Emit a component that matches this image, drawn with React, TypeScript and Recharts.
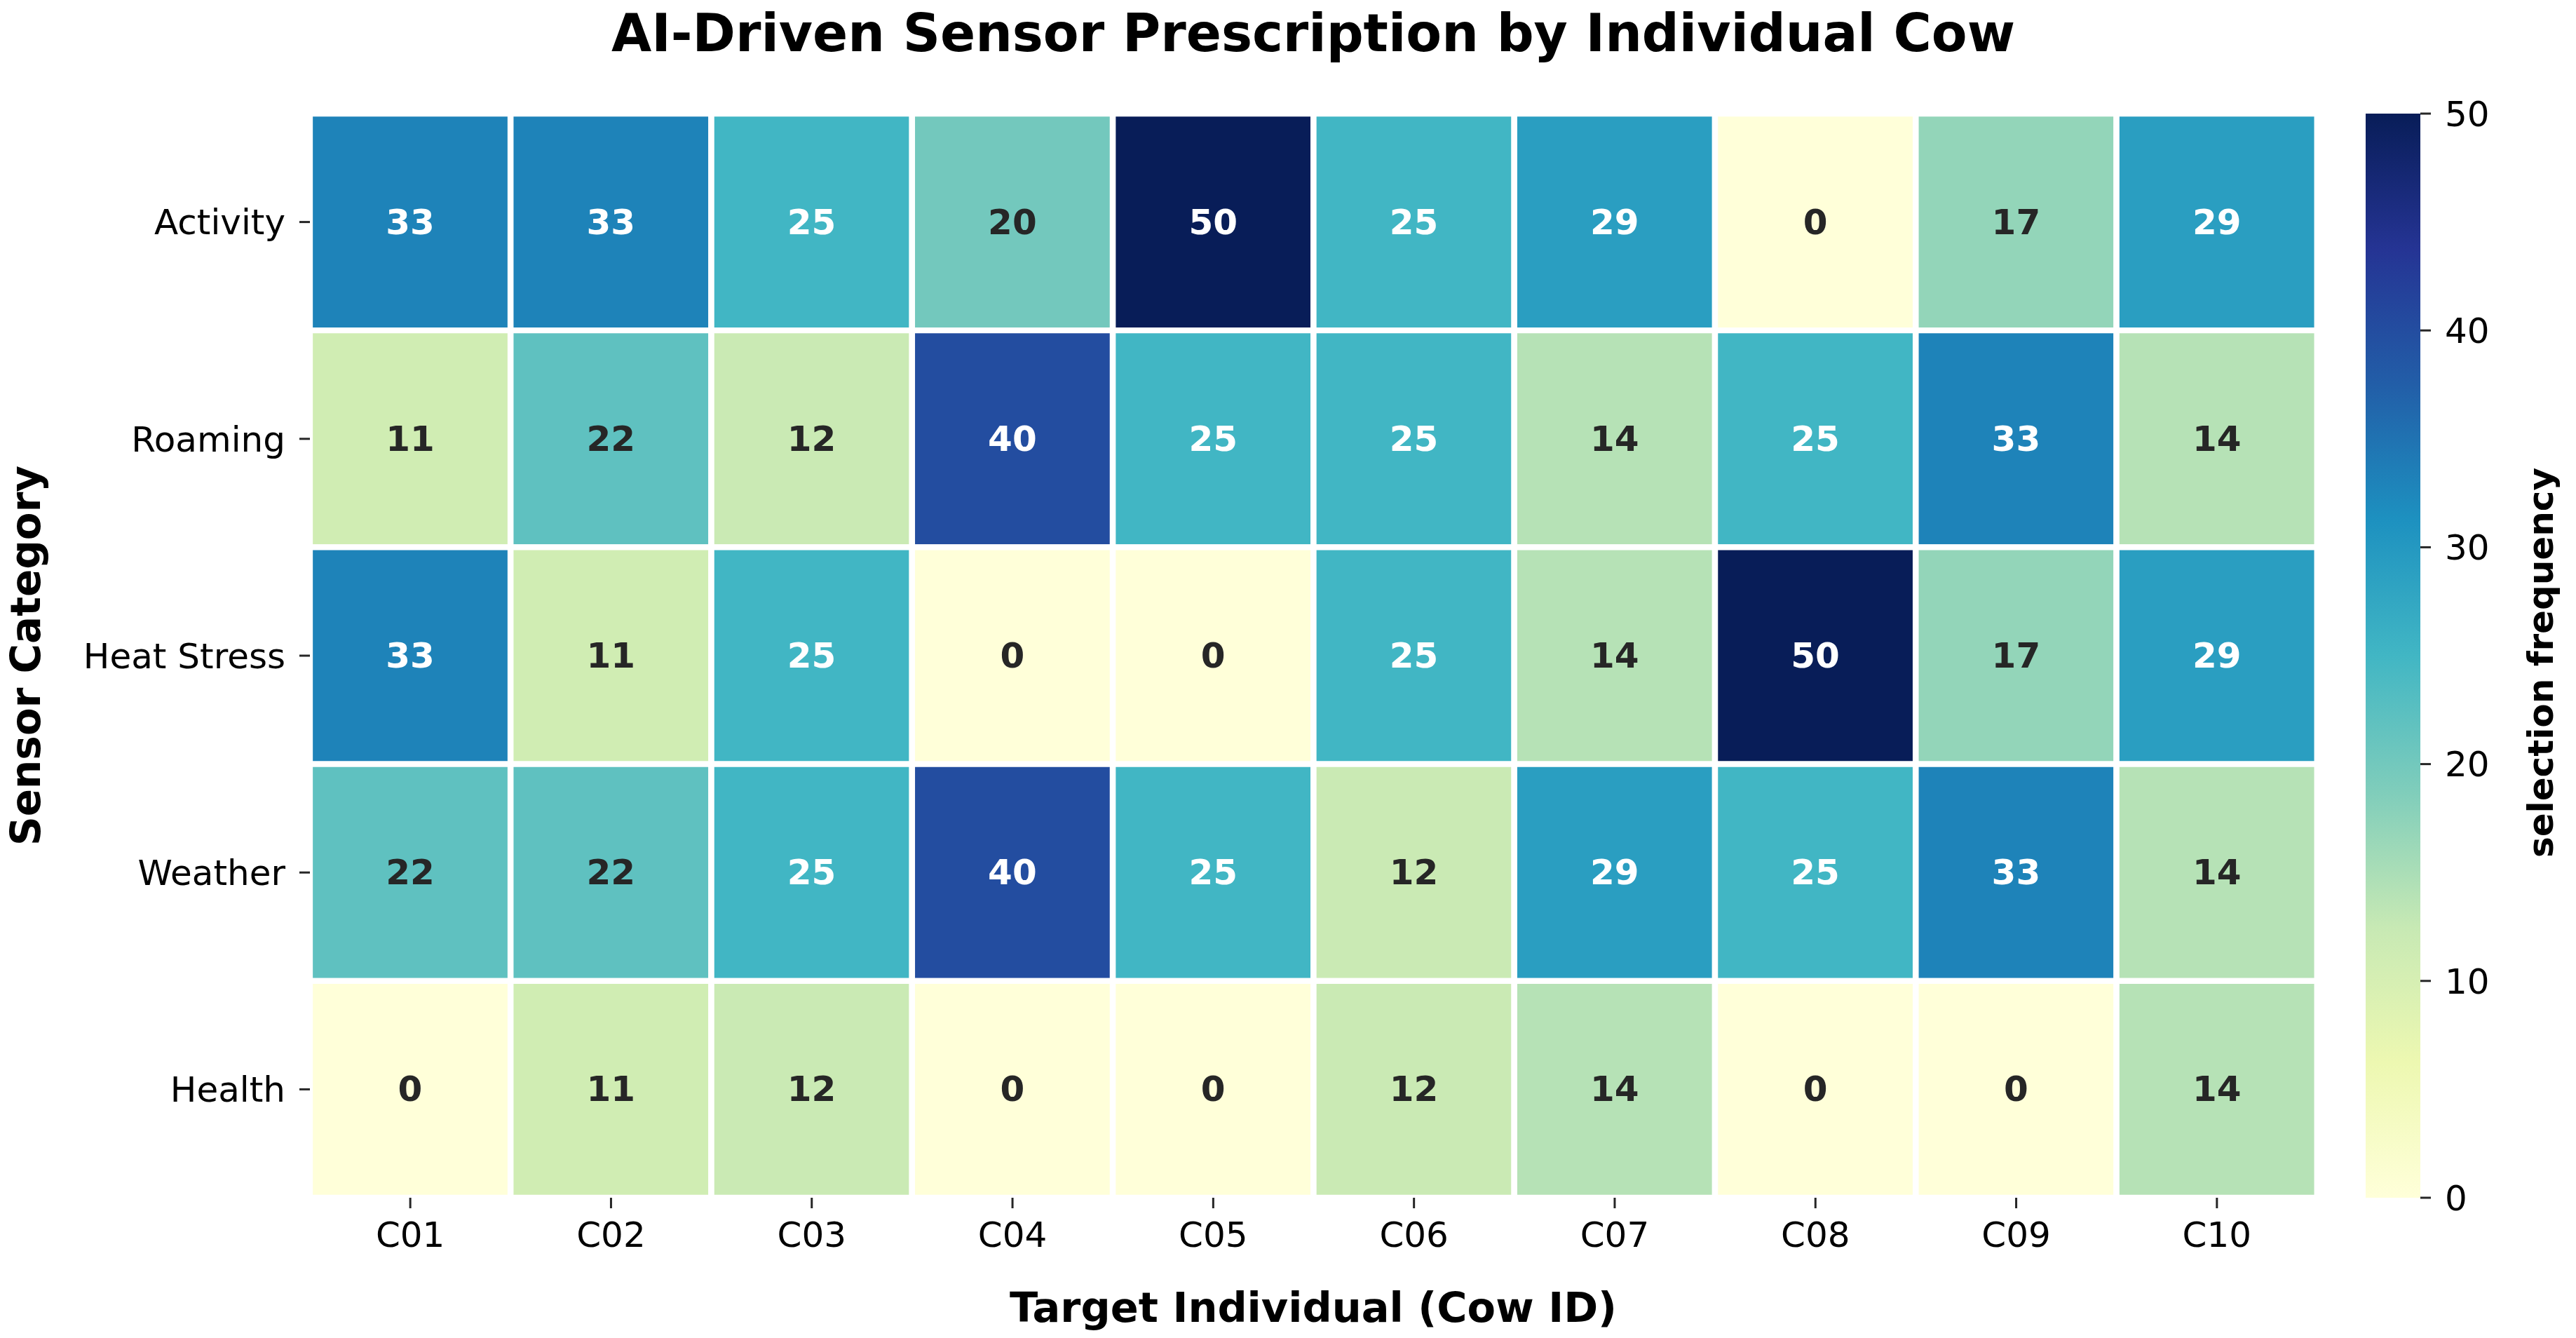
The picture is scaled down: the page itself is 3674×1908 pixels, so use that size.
import React from 'react';
import { BarChart, Bar, XAxis, YAxis, Cell, LabelList } from 'recharts';

const categories = ['Activity', 'Roaming', 'Heat Stress', 'Weather', 'Health'];
const cows = ['C01', 'C02', 'C03', 'C04', 'C05', 'C06', 'C07', 'C08', 'C09', 'C10'];

const activity = [33, 33, 25, 20, 50, 25, 29, 0, 17, 29];
const roaming = [11, 22, 12, 40, 25, 25, 14, 25, 33, 14];
const heatStress = [33, 11, 25, 0, 0, 25, 14, 50, 17, 29];
const weather = [22, 22, 25, 40, 25, 12, 29, 25, 33, 14];
const health = [0, 11, 12, 0, 0, 12, 14, 0, 0, 14];
const seriesValues = [activity, roaming, heatStress, weather, health];

const colorbarTicks = [0, 10, 20, 30, 40, 50];
const vmin = 0;
const vmax = 50;

// YlGnBu (matplotlib / colorbrewer)
const ylgnbu = [
  [255, 255, 217],
  [237, 248, 177],
  [199, 233, 180],
  [127, 205, 187],
  [65, 182, 196],
  [29, 145, 192],
  [34, 94, 168],
  [37, 52, 148],
  [8, 29, 88],
];

const FONT = '"DejaVu Sans", Verdana, sans-serif';

function colorRgb(v: number) {
  const t = Math.max(0, Math.min(1, (v - vmin) / (vmax - vmin)));
  const pos = t * (ylgnbu.length - 1);
  const i = Math.min(Math.floor(pos), ylgnbu.length - 2);
  const f = pos - i;
  const a = ylgnbu[i];
  const b = ylgnbu[i + 1];
  return [0, 1, 2].map((k) => Math.round(a[k] + (b[k] - a[k]) * f));
}

function colorFor(v: number) {
  const [r, g, b] = colorRgb(v);
  return `rgb(${r},${g},${b})`;
}

// same rule seaborn uses to pick annotation colour
function textColorFor(v: number) {
  const lin = colorRgb(v).map((c) => {
    const s = c / 255;
    return s <= 0.03928 ? s / 12.92 : Math.pow((s + 0.055) / 1.055, 2.4);
  });
  const lum = 0.2126 * lin[0] + 0.7152 * lin[1] + 0.0722 * lin[2];
  return lum > 0.408 ? '#262626' : '#ffffff';
}

const tableData = cows.map((cow, i) => {
  const entry: Record<string, string | number> = { cow };
  categories.forEach((_, j) => {
    entry[`span${j}`] = 1;
    entry[`val${j}`] = seriesValues[j][i];
  });
  return entry;
});

const colorbarData = [{ name: 'scale', v: vmax }];

const renderCellLabel = (props: any) => {
  const { x, y, width, height, value } = props;
  const v = Number(value);
  return (
    <text
      x={Number(x) + Number(width) / 2}
      y={Number(y) + Number(height) / 2}
      textAnchor="middle"
      dominantBaseline="central"
      fontFamily={FONT}
      fontSize={50}
      fontWeight="bold"
      fill={textColorFor(v)}
    >
      {v}
    </text>
  );
};

const tickLine = { stroke: '#262626', strokeWidth: 3 };
const tickText = { fill: '#000', fontSize: 50, fontFamily: FONT };

export default function App() {
  return (
    <div style={{ position: 'absolute', left: 0, top: 0, width: 3674, height: 1908, background: '#fff' }}>
      <div style={{ position: 'absolute', left: 0, top: 0 }}>
        <BarChart
          width={3674}
          height={1908}
          data={tableData}
          margin={{ top: 162, right: 369, bottom: 80, left: 142 }}
          barCategoryGap={0}
          barGap={0}
        >
          <XAxis
            dataKey="cow"
            type="category"
            height={120}
            interval={0}
            tickSize={15}
            tickMargin={19}
            axisLine={false}
            tickLine={tickLine}
            tick={tickText}
          />
          <YAxis
            type="number"
            domain={[0, categories.length]}
            reversed
            ticks={categories.map((_, j) => j + 0.5)}
            tickFormatter={(v: number) => categories[Math.floor(v)]}
            interval={0}
            width={300}
            tickSize={15}
            tickMargin={20}
            axisLine={false}
            tickLine={tickLine}
            tick={tickText}
          />
          {categories.map((cat, j) => (
            <Bar
              key={cat}
              dataKey={`span${j}`}
              stackId="grid"
              stroke="#ffffff"
              strokeWidth={8.3}
              isAnimationActive={false}
            >
              {cows.map((cow, i) => (
                <Cell key={cow} fill={colorFor(seriesValues[j][i])} stroke="#ffffff" strokeWidth={8.3} />
              ))}
              <LabelList dataKey={`val${j}`} content={renderCellLabel} />
            </Bar>
          ))}
        </BarChart>
      </div>

      <div style={{ position: 'absolute', left: 3374, top: 122 }}>
        <BarChart
          width={278}
          height={1626}
          data={colorbarData}
          margin={{ top: 40, right: 0, bottom: 40, left: 0 }}
          barCategoryGap={0}
        >
          <defs>
            <linearGradient id="ylgnbu" x1="0" y1="1" x2="0" y2="0">
              {ylgnbu.map((c, k) => (
                <stop
                  key={k}
                  offset={`${(k / (ylgnbu.length - 1)) * 100}%`}
                  stopColor={`rgb(${c[0]},${c[1]},${c[2]})`}
                />
              ))}
            </linearGradient>
          </defs>
          <XAxis dataKey="name" hide height={0} />
          <YAxis
            orientation="right"
            type="number"
            domain={[vmin, vmax]}
            ticks={colorbarTicks}
            interval={0}
            width={200}
            tickSize={15}
            tickMargin={20}
            axisLine={false}
            tickLine={tickLine}
            tick={tickText}
          />
          <Bar dataKey="v" fill="url(#ylgnbu)" isAnimationActive={false} />
        </BarChart>
      </div>

      <svg
        width={3674}
        height={1908}
        style={{ position: 'absolute', left: 0, top: 0, pointerEvents: 'none' }}
      >
        <text x={1873} y={73} textAnchor="middle" fontFamily={FONT} fontSize={74} fontWeight="bold" fill="#000">
          AI-Driven Sensor Prescription by Individual Cow
        </text>
        <text x={1873} y={1885} textAnchor="middle" fontFamily={FONT} fontSize={59} fontWeight="bold" fill="#000">
          Target Individual (Cow ID)
        </text>
        <text
          x={57}
          y={935}
          transform="rotate(-90 57 935)"
          textAnchor="middle"
          fontFamily={FONT}
          fontSize={58}
          fontWeight="bold"
          fill="#000"
        >
          Sensor Category
        </text>
        <text
          x={3641}
          y={945}
          transform="rotate(-90 3641 945)"
          textAnchor="middle"
          fontFamily={FONT}
          fontSize={50}
          fontWeight="bold"
          fill="#000"
        >
          selection frequency
        </text>
      </svg>
    </div>
  );
}
